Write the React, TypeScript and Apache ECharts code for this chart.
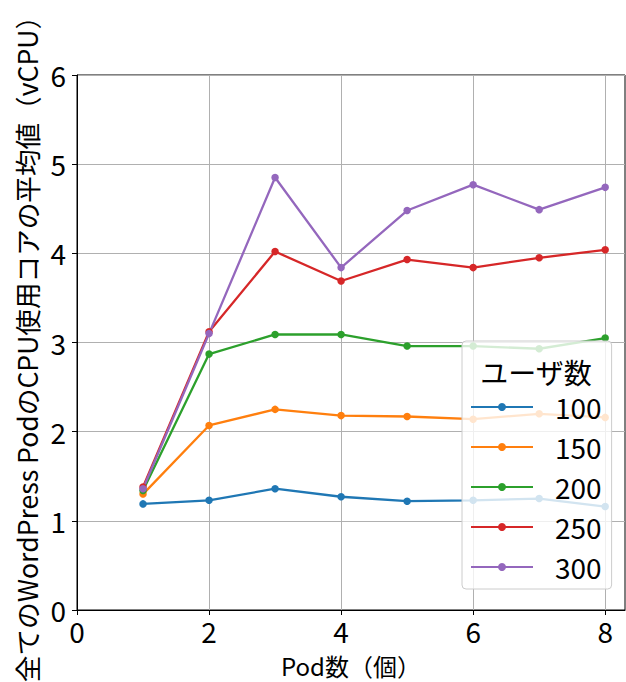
import React, { useEffect, useRef } from "react";
import * as echarts from "echarts";

const podCounts = [1, 2, 3, 4, 5, 6, 7, 8];
const userLabels = ["100", "150", "200", "250", "300"];
const cpu100 = [1.19, 1.23, 1.36, 1.27, 1.22, 1.23, 1.25, 1.16];
const cpu150 = [1.3, 2.07, 2.25, 2.18, 2.17, 2.14, 2.2, 2.16];
const cpu200 = [1.34, 2.87, 3.09, 3.09, 2.96, 2.96, 2.93, 3.05];
const cpu250 = [1.38, 3.12, 4.02, 3.69, 3.93, 3.84, 3.95, 4.04];
const cpu300 = [1.36, 3.1, 4.85, 3.84, 4.48, 4.77, 4.49, 4.74];
const xTicks = [0, 2, 4, 6, 8];
const colors = ["#1f77b4", "#ff7f0e", "#2ca02c", "#d62728", "#9467bd"];

const FONT = "'Noto Sans CJK JP', 'Noto Sans', sans-serif";

export default function App() {
  const ref = useRef<HTMLDivElement>(null);
  useEffect(() => {
    if (!ref.current) return;
    const chart = echarts.init(ref.current, null, { renderer: "svg" });
    const allSeries = [cpu100, cpu150, cpu200, cpu250, cpu300];
    chart.setOption({
      animation: false,
      backgroundColor: "#ffffff",
      textStyle: { fontFamily: FONT },
      grid: {
        left: 77,
        top: 75,
        width: 548,
        height: 535,
        show: true,
        borderColor: "#000",
        borderWidth: 1,
        backgroundColor: "transparent",
        containLabel: false,
        outerBoundsMode: "none",
      },
      xAxis: {
        type: "value",
        min: 0,
        max: 8.3,
        interval: 2,
        name: "Pod数（個）",
        nameLocation: "middle",
        nameGap: 43,
        nameTextStyle: { fontSize: 24, lineHeight: 24, color: "#000", fontFamily: FONT },
        axisLine: { show: true, lineStyle: { color: "#000", width: 1 } },
        axisTick: {
          show: true,
          length: 5,
          lineStyle: { color: "#000", width: 1 },
          customValues: xTicks,
        },
        axisLabel: {
          customValues: xTicks,
          fontSize: 28,
          lineHeight: 22,
          color: "#000",
          margin: 10,
          fontFamily: FONT,
        },
        splitLine: { show: true, lineStyle: { color: "#b0b0b0", width: 1 } },
      },
      yAxis: {
        type: "value",
        min: 0,
        max: 6,
        interval: 1,
        name: "全てのWordPress PodのCPU使用コアの平均値（vCPU）",
        nameLocation: "middle",
        nameGap: 34,
        nameTextStyle: { fontSize: 26.6, lineHeight: 27, color: "#000", fontFamily: FONT },
        axisLine: { show: true, lineStyle: { color: "#000", width: 1 } },
        axisTick: { show: true, length: 5, lineStyle: { color: "#000", width: 1 } },
        axisLabel: { fontSize: 28, color: "#000", margin: 11, fontFamily: FONT },
        splitLine: { show: true, lineStyle: { color: "#b0b0b0", width: 1 } },
      },
      legend: {
        orient: "vertical",
        left: 462,
        top: 341,
        padding: [52, 10, 8, 8],
        itemWidth: 62,
        itemHeight: 10,
        itemGap: 12,
        backgroundColor: "rgba(255,255,255,0.8)",
        borderColor: "#cccccc",
        borderWidth: 1,
        borderRadius: 4,
        data: userLabels,
        textStyle: {
          fontSize: 28,
          lineHeight: 28,
          color: "#000",
          fontFamily: FONT,
          padding: [0, 0, 0, 17],
        },
      },
      graphic: [
        {
          type: "text",
          x: 536,
          y: 372,
          z: 100,
          style: {
            text: "ユーザ数",
            fontSize: 28,
            fontFamily: FONT,
            fill: "#000",
            align: "center",
            verticalAlign: "middle",
          },
        },
      ],
      series: allSeries.map((arr, i) => ({
        name: userLabels[i],
        type: "line",
        data: podCounts.map((x, j) => [x, arr[j]]),
        symbol: "circle",
        symbolSize: 7.5,
        color: colors[i],
        lineStyle: { width: 2.3, color: colors[i] },
        itemStyle: { color: colors[i] },
        emphasis: { disabled: true },
      })),
    });
    return () => chart.dispose();
  }, []);
  return (
    <div
      ref={ref}
      style={{ position: "fixed", left: 0, top: 0, width: 626, height: 682 }}
    />
  );
}
